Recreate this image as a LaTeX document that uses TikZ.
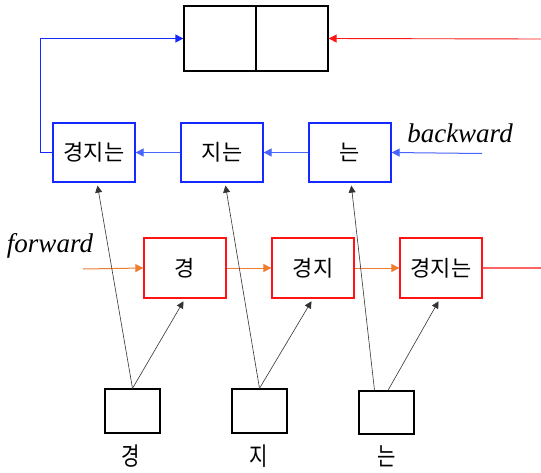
\documentclass[tikz,border=0pt]{standalone}
\usepackage{fontspec}
\newfontfamily\kr{Noto Sans CJK KR}
\newfontfamily\krnarrow[FakeStretch=0.8]{Noto Sans CJK KR}
\newfontfamily\latinit{Liberation Serif}
\usetikzlibrary{arrows.meta}
\definecolor{bwdblue}{RGB}{20,40,255}
\definecolor{bwdlink}{RGB}{70,100,255}
\definecolor{fwdred}{RGB}{255,20,20}
\definecolor{fwdout}{RGB}{255,100,100}
\definecolor{fwdorange}{RGB}{237,125,49}
\tikzset{
  cell/.style={draw, line width=1.3pt, minimum width=82pt, minimum height=59pt, inner sep=0pt, font=\kr\fontsize{22}{24}\selectfont},
  bcell/.style={cell, draw=bwdblue},
  fcell/.style={cell, draw=fwdred, minimum height=60pt},
  outcell/.style={draw=black, line width=1.3pt, minimum width=72pt, minimum height=65pt, inner sep=0pt},
  incell/.style={draw=black, line width=1.3pt, minimum width=55pt, minimum height=44pt, inner sep=0pt},
  inlabel/.style={font=\krnarrow\fontsize{25}{27}\selectfont},
  dirlabel/.style={font=\latinit\itshape\fontsize{27}{29}\selectfont},
  tip/.style={-{Triangle[length=8pt,width=8pt]}},
  bwd/.style={tip, draw=bwdlink, line width=1pt},
  fwd/.style={tip, draw=fwdorange, line width=1pt},
  feed/.style={-{Triangle[length=7pt,width=7pt]}, draw=black!80, line width=0.6pt, shorten >=3pt},
}
\begin{document}
\begin{tikzpicture}[x=1pt,y=-1pt]
\useasboundingbox (0,0) rectangle (541,472);

% concatenated output
\node[outcell] (outl) at (220,38.5) {};
\node[outcell] (outr) at (292,38.5) {};

% backward cells
\node[bcell] (b1) at (94,152.5) {경지는};
\node[bcell] (b2) at (222,152.5) {지는};
\node[bcell] (b3) at (350,152.5) {는};

% forward cells
\node[fcell] (f1) at (185,268) {경};
\node[fcell] (f2) at (313,268) {경지};
\node[fcell] (f3) at (441,268) {경지는};

% input cells
\node[incell] (i1) at (132.5,411) {};
\node[incell] (i2) at (259.5,411) {};
\node[incell, minimum height=43pt] (i3) at (386.5,412.5) {};
\node[inlabel] (l1) at (131,456) {경};
\node[inlabel] (l2) at (259,456) {지};
\node[inlabel] (l3) at (387,456) {는};

\node[dirlabel] (bwdtext) at (460,133) {backward};
\node[dirlabel] (fwdtext) at (50,246) {forward};

\coordinate (bin) at (482,153.5);
\coordinate (rin) at (541,39);
\coordinate (fin) at (83,269);
\coordinate (fout) at (541,268);

% backward chain
\draw[bwd] (bin) -- (b3.east);
\draw[bwd] (b3.west) -- (b2.east);
\draw[bwd] (b2.west) -- (b1.east);
\draw[tip, draw=bwdblue, line width=1.3pt] (b1.west) -- ++(-12,0) |- (outl.west);

% forward chain
\draw[tip, draw=fwdred, line width=0.9pt] (rin) -- (outr.east);
\draw[fwd] (fin) -- (f1.west);
\draw[fwd] (f1.east) -- (f2.west);
\draw[fwd] (f2.east) -- (f3.west);
\draw[draw=fwdout, line width=1.2pt] (f3.east) -- (fout);

% inputs feeding both directions
\draw[feed] (i1.north) -- ([xshift=3pt]b1.south);
\draw[feed] (i1.north) -- (f1.south);
\draw[feed] (i2.north) -- ([xshift=3pt]b2.south);
\draw[feed] (i2.north) -- (f2.south);
\draw[feed] ([xshift=-12pt]i3.north) -- ([xshift=1pt]b3.south);
\draw[feed] ([xshift=1.5pt]i3.north) -- ([xshift=-1pt]f3.south);
\end{tikzpicture}
\end{document}
